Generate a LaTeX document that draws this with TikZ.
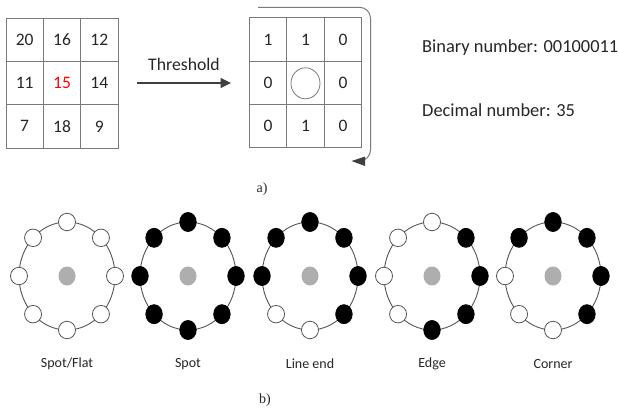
\documentclass[tikz,border=0pt]{standalone}
\usepackage{fontspec}
\setmainfont{Carlito}
\newfontfamily\capserif{Liberation Serif}
\usetikzlibrary{arrows.meta,shapes.geometric}
\definecolor{txt}{HTML}{262626}
\definecolor{gridc}{HTML}{7A7A7A}
\definecolor{arr}{HTML}{3F3F3F}
\definecolor{ringc}{HTML}{555555}
\definecolor{cgray}{HTML}{AEAEAE}
\tikzset{
  cellL/.style={draw=gridc, line width=0.9pt, minimum width=37.33pt, minimum height=43.33pt, inner sep=0pt, text=txt, font=\fontsize{17.5}{17.5}\selectfont},
  cellR/.style={draw=gridc, line width=0.9pt, minimum width=37.5pt, minimum height=43.4pt, inner sep=0pt, text=txt, font=\fontsize{17.5}{17.5}\selectfont},
  bigtxt/.style={text=txt, inner sep=0pt, font=\fontsize{18.4}{18.4}\selectfont},
  lab/.style={text=txt, inner sep=0pt, font=\fontsize{14}{14}\selectfont},
  figcap/.style={text=txt, inner sep=0pt, font=\capserif\fontsize{14}{14}\selectfont},
  ringline/.style={draw=ringc, line width=0.9pt},
  dotw/.style={ellipse, draw=ringc, line width=0.8pt, fill=white, minimum width=17pt, minimum height=17.5pt, inner sep=0pt},
  dotb/.style={ellipse, draw=black, line width=0.8pt, fill=black, minimum width=16.5pt, minimum height=19pt, inner sep=0pt},
  centdot/.style={ellipse, fill=cgray, minimum width=17pt, minimum height=19pt, inner sep=0pt},
}
\newcommand\lbpring[4]{%
  \coordinate (#1) at (#2,276);
  \draw[ringline] (#1) ellipse [x radius=48pt, y radius=54pt];
  \node[centdot] (#1-c) at (#1) {};
  \foreach \c [count=\k from 0] in {#3} {
    \pgfmathsetmacro\ang{90-45*\k}
    \node[dot\c] (#1-\k) at ([shift={(\ang:48pt and 54pt)}]#1) {};
  }
  \node[lab] (#1-lab) at (#2,364) {#4};
}
\begin{document}
\begin{tikzpicture}[x=1pt,y=-1pt]
\useasboundingbox[fill=white] (0,0) rectangle (619,412);

% left grid
\node[cellL] (a11) at (24.67,39.67) {20};
\node[cellL] (a12) at (62,39.67) {16};
\node[cellL] (a13) at (99.33,39.67) {12};
\node[cellL] (a21) at (24.67,83) {11};
\node[cellL, text=red] (a22) at (62,83) {15};
\node[cellL] (a23) at (99.33,83) {14};
\node[cellL] (a31) at (24.67,126.33) {7};
\node[cellL] (a32) at (62,126.33) {18};
\node[cellL] (a33) at (99.33,126.33) {9};

% threshold arrow
\coordinate (thA) at (137,83);
\coordinate (thB) at (231,83);
\draw[arr, line width=1.1pt, -{Triangle[length=10.5pt,width=10pt]}] (thA) -- (thB);
\node[text=txt, inner sep=0pt, font=\fontsize{17.7}{17.7}\selectfont] (thr) at (184,64) {Threshold};

% right grid
\node[cellR] (b11) at (268,39.4) {1};
\node[cellR] (b12) at (305.5,39.4) {1};
\node[cellR] (b13) at (343,39.4) {0};
\node[cellR] (b21) at (268,82.8) {0};
\node[cellR] (b22) at (305.5,82.8) {};
\node[cellR] (b23) at (343,82.8) {0};
\node[cellR] (b31) at (268,126.2) {0};
\node[cellR] (b32) at (305.5,126.2) {1};
\node[cellR] (b33) at (343,126.2) {0};
\node[ellipse, draw=gridc, line width=0.8pt, minimum width=29pt, minimum height=31pt, inner sep=0pt] (ctr) at (305.5,83.3) {};

% wrap arrow
\coordinate (wA) at (258,7.3);
\coordinate (wB) at (370.5,7.3);
\coordinate (wC) at (370.5,161);
\coordinate (wD) at (360,161);
\draw[draw=gridc, line width=1pt, rounded corners=11pt] (wA) -- (wB) -- (wC) -- (wD);
\fill[arr] (351.5,161) -- (365,156.5) -- (365,166) -- cycle;

% texts
\node[bigtxt, anchor=west] (bin) at (422,48) {Binary number: 00100011};
\node[bigtxt, anchor=west] (dec) at (422,110) {Decimal number: 35};
\node[figcap] (capa) at (262,189) {a)};

% rings
\lbpring{r1}{67}{w,w,w,w,w,w,w,w}{Spot/Flat}
\lbpring{r2}{188}{b,b,b,b,b,b,b,b}{Spot}
\lbpring{r3}{310}{b,b,b,b,w,w,b,b}{Line end}
\lbpring{r4}{432}{w,b,b,b,b,w,w,w}{Edge}
\lbpring{r5}{553}{b,b,b,b,w,w,w,b}{Corner}

\node[figcap] (capb) at (265,400) {b)};
\end{tikzpicture}
\end{document}
